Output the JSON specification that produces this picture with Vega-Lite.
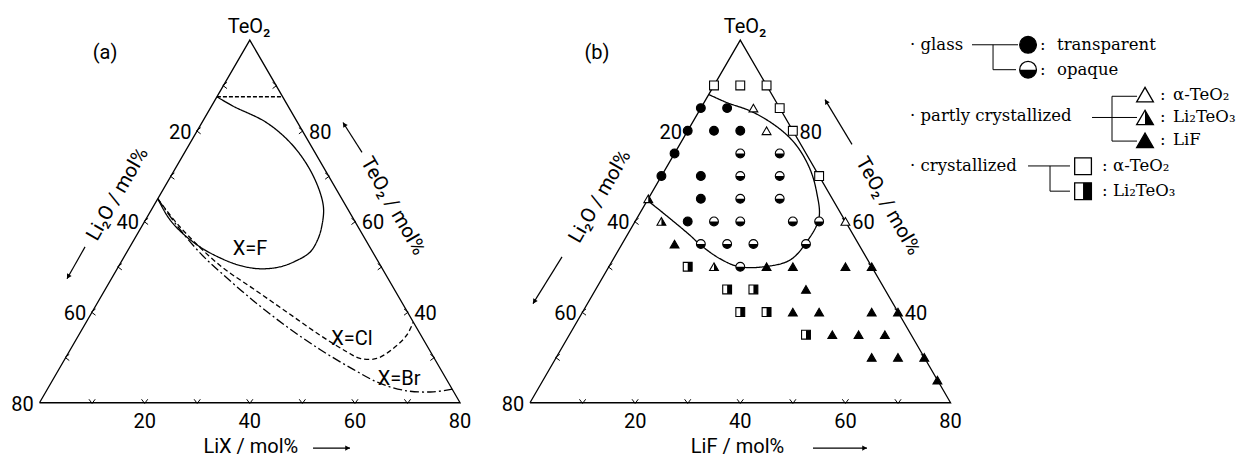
{
  "$schema": "https://vega.github.io/schema/vega-lite/v6.json",
  "width": 1251,
  "height": 457,
  "autosize": {"type": "fit", "contains": "padding"},
  "padding": 0,
  "background": "white",
  "config": {"view": {"stroke": null}},
  "datasets": {
    "tri": [
      {"panel": "a", "i": 0, "lix": 0, "teo2": 20},
      {"panel": "a", "i": 1, "lix": 80, "teo2": 20},
      {"panel": "a", "i": 2, "lix": 0, "teo2": 100},
      {"panel": "a", "i": 3, "lix": 0, "teo2": 20},
      {"panel": "b", "i": 0, "lix": 0, "teo2": 20},
      {"panel": "b", "i": 1, "lix": 80, "teo2": 20},
      {"panel": "b", "i": 2, "lix": 0, "teo2": 100},
      {"panel": "b", "i": 3, "lix": 0, "teo2": 20}
    ],
    "edges": [
      {"panel": "a", "edge": "L", "v": [10, 20, 30, 40, 50, 60, 70]},
      {"panel": "a", "edge": "B", "v": [10, 20, 30, 40, 50, 60, 70]},
      {"panel": "a", "edge": "R", "v": [30, 40, 50, 60, 70, 80, 90]},
      {"panel": "b", "edge": "L", "v": [10, 20, 30, 40, 50, 60, 70]},
      {"panel": "b", "edge": "B", "v": [10, 20, 30, 40, 50, 60, 70]},
      {"panel": "b", "edge": "R", "v": [30, 40, 50, 60, 70, 80, 90]}
    ],
    "labels": [
      {"panel": "a", "edge": "L", "v": [20, 40, 60, 80]},
      {"panel": "a", "edge": "R", "v": [40, 60, 80]},
      {"panel": "a", "edge": "B", "v": [20, 40, 60, 80]},
      {"panel": "b", "edge": "L", "v": [20, 40, 60, 80]},
      {"panel": "b", "edge": "R", "v": [40, 60, 80]},
      {"panel": "b", "edge": "B", "v": [20, 40, 60, 80]}
    ],
    "curves": [
      {"panel": "a", "c": "F", "i": 0, "lix": 0, "teo2": 87.5},
      {"panel": "a", "c": "F", "i": 1, "lix": 4.16, "teo2": 85.41},
      {"panel": "a", "c": "F", "i": 2, "lix": 12.34, "teo2": 81.77},
      {"panel": "a", "c": "F", "i": 3, "lix": 19.97, "teo2": 76.63},
      {"panel": "a", "c": "F", "i": 4, "lix": 27.06, "teo2": 70.03},
      {"panel": "a", "c": "F", "i": 5, "lix": 32.26, "teo2": 63.45},
      {"panel": "a", "c": "F", "i": 6, "lix": 34.14, "teo2": 59.2},
      {"panel": "a", "c": "F", "i": 7, "lix": 34.91, "teo2": 56.13},
      {"panel": "a", "c": "F", "i": 8, "lix": 34.85, "teo2": 53.21},
      {"panel": "a", "c": "F", "i": 9, "lix": 33.14, "teo2": 51.3},
      {"panel": "a", "c": "F", "i": 10, "lix": 30.76, "teo2": 49.98},
      {"panel": "a", "c": "F", "i": 11, "lix": 27.17, "teo2": 49.55},
      {"panel": "a", "c": "F", "i": 12, "lix": 23.01, "teo2": 50.27},
      {"panel": "a", "c": "F", "i": 13, "lix": 18.36, "teo2": 51.96},
      {"panel": "a", "c": "F", "i": 14, "lix": 13.34, "teo2": 54.38},
      {"panel": "a", "c": "F", "i": 15, "lix": 7.79, "teo2": 57.89},
      {"panel": "a", "c": "F", "i": 16, "lix": 3.96, "teo2": 60.97},
      {"panel": "a", "c": "F", "i": 17, "lix": 0, "teo2": 65},
      {"panel": "a", "c": "Cl", "i": 0, "lix": 0, "teo2": 65},
      {"panel": "a", "c": "Cl", "i": 1, "lix": 7.35, "teo2": 58.77},
      {"panel": "a", "c": "Cl", "i": 2, "lix": 19.21, "teo2": 50.27},
      {"panel": "a", "c": "Cl", "i": 3, "lix": 28.1, "teo2": 45.15},
      {"panel": "a", "c": "Cl", "i": 4, "lix": 37.0, "teo2": 40.03},
      {"panel": "a", "c": "Cl", "i": 5, "lix": 45.91, "teo2": 34.9},
      {"panel": "a", "c": "Cl", "i": 6, "lix": 52.82, "teo2": 31.25},
      {"panel": "a", "c": "Cl", "i": 7, "lix": 56.09, "teo2": 29.77},
      {"panel": "a", "c": "Cl", "i": 8, "lix": 59.26, "teo2": 29.77},
      {"panel": "a", "c": "Cl", "i": 9, "lix": 61.31, "teo2": 31.97},
      {"panel": "a", "c": "Cl", "i": 10, "lix": 62.4, "teo2": 34.9},
      {"panel": "a", "c": "Cl", "i": 11, "lix": 62.19, "teo2": 37.81},
      {"panel": "a", "c": "Br", "i": 0, "lix": 0, "teo2": 65},
      {"panel": "a", "c": "Br", "i": 1, "lix": 6.97, "teo2": 58.77},
      {"panel": "a", "c": "Br", "i": 2, "lix": 14.0, "teo2": 53.06},
      {"panel": "a", "c": "Br", "i": 3, "lix": 19.9, "teo2": 48.88},
      {"panel": "a", "c": "Br", "i": 4, "lix": 29.41, "teo2": 42.52},
      {"panel": "a", "c": "Br", "i": 5, "lix": 38.62, "teo2": 36.8},
      {"panel": "a", "c": "Br", "i": 6, "lix": 47.48, "teo2": 31.75},
      {"panel": "a", "c": "Br", "i": 7, "lix": 56.01, "teo2": 27.36},
      {"panel": "a", "c": "Br", "i": 8, "lix": 62.63, "teo2": 24.28},
      {"panel": "a", "c": "Br", "i": 9, "lix": 68.53, "teo2": 22.63},
      {"panel": "a", "c": "Br", "i": 10, "lix": 73.7, "teo2": 22.41},
      {"panel": "a", "c": "Br", "i": 11, "lix": 77.0, "teo2": 23.0},
      {"panel": "a", "c": "top", "i": 0, "lix": 0, "teo2": 87.5},
      {"panel": "a", "c": "top", "i": 1, "lix": 12.5, "teo2": 87.5},
      {"panel": "b", "c": "b", "i": 0, "lix": 0, "teo2": 88},
      {"panel": "b", "c": "b", "i": 1, "lix": 4.28, "teo2": 86.24},
      {"panel": "b", "c": "b", "i": 2, "lix": 10.35, "teo2": 84.11},
      {"panel": "b", "c": "b", "i": 3, "lix": 17.35, "teo2": 80.38},
      {"panel": "b", "c": "b", "i": 4, "lix": 22.35, "teo2": 76.72},
      {"panel": "b", "c": "b", "i": 5, "lix": 27.44, "teo2": 71.6},
      {"panel": "b", "c": "b", "i": 6, "lix": 31.28, "teo2": 66.48},
      {"panel": "b", "c": "b", "i": 7, "lix": 34.64, "teo2": 60.62},
      {"panel": "b", "c": "b", "i": 8, "lix": 34.83, "teo2": 54.91},
      {"panel": "b", "c": "b", "i": 9, "lix": 33.71, "teo2": 51.46},
      {"panel": "b", "c": "b", "i": 10, "lix": 29.68, "teo2": 50.02},
      {"panel": "b", "c": "b", "i": 11, "lix": 24.73, "teo2": 50.02},
      {"panel": "b", "c": "b", "i": 12, "lix": 20.2, "teo2": 51.8},
      {"panel": "b", "c": "b", "i": 13, "lix": 14.87, "teo2": 54.91},
      {"panel": "b", "c": "b", "i": 14, "lix": 11.95, "teo2": 56.95},
      {"panel": "b", "c": "b", "i": 15, "lix": 3.5, "teo2": 62.44},
      {"panel": "b", "c": "b", "i": 16, "lix": 0, "teo2": 64.64}
    ],
    "pts": [
      {"panel": "b", "lix": 0, "teo2": 90, "type": "CA"},
      {"panel": "b", "lix": 5, "teo2": 90, "type": "CA"},
      {"panel": "b", "lix": 10, "teo2": 90, "type": "CA"},
      {"panel": "b", "lix": 0, "teo2": 85, "type": "T"},
      {"panel": "b", "lix": 5, "teo2": 85, "type": "T"},
      {"panel": "b", "lix": 10, "teo2": 85, "type": "PA"},
      {"panel": "b", "lix": 15, "teo2": 85, "type": "CA"},
      {"panel": "b", "lix": 0, "teo2": 80, "type": "T"},
      {"panel": "b", "lix": 5, "teo2": 80, "type": "T"},
      {"panel": "b", "lix": 10, "teo2": 80, "type": "T"},
      {"panel": "b", "lix": 15, "teo2": 80, "type": "PA"},
      {"panel": "b", "lix": 20, "teo2": 80, "type": "CA"},
      {"panel": "b", "lix": 0, "teo2": 75, "type": "T"},
      {"panel": "b", "lix": 12.5, "teo2": 75, "type": "O"},
      {"panel": "b", "lix": 20, "teo2": 75, "type": "O"},
      {"panel": "b", "lix": 0, "teo2": 70, "type": "T"},
      {"panel": "b", "lix": 7.5, "teo2": 70, "type": "T"},
      {"panel": "b", "lix": 15, "teo2": 70, "type": "O"},
      {"panel": "b", "lix": 22.5, "teo2": 70, "type": "O"},
      {"panel": "b", "lix": 30, "teo2": 70, "type": "CA"},
      {"panel": "b", "lix": 0, "teo2": 65, "type": "PL"},
      {"panel": "b", "lix": 10, "teo2": 65, "type": "T"},
      {"panel": "b", "lix": 17.5, "teo2": 65, "type": "O"},
      {"panel": "b", "lix": 25, "teo2": 65, "type": "O"},
      {"panel": "b", "lix": 5, "teo2": 60, "type": "PL"},
      {"panel": "b", "lix": 10, "teo2": 60, "type": "T"},
      {"panel": "b", "lix": 15, "teo2": 60, "type": "O"},
      {"panel": "b", "lix": 20, "teo2": 60, "type": "O"},
      {"panel": "b", "lix": 30, "teo2": 60, "type": "O"},
      {"panel": "b", "lix": 35, "teo2": 60, "type": "O"},
      {"panel": "b", "lix": 40, "teo2": 60, "type": "PA"},
      {"panel": "b", "lix": 10, "teo2": 55, "type": "PF"},
      {"panel": "b", "lix": 15, "teo2": 55, "type": "O"},
      {"panel": "b", "lix": 20, "teo2": 55, "type": "O"},
      {"panel": "b", "lix": 25, "teo2": 55, "type": "O"},
      {"panel": "b", "lix": 35, "teo2": 55, "type": "O"},
      {"panel": "b", "lix": 15, "teo2": 50, "type": "CL"},
      {"panel": "b", "lix": 20, "teo2": 50, "type": "PL"},
      {"panel": "b", "lix": 25, "teo2": 50, "type": "O"},
      {"panel": "b", "lix": 30, "teo2": 50, "type": "PF"},
      {"panel": "b", "lix": 35, "teo2": 50, "type": "PF"},
      {"panel": "b", "lix": 45, "teo2": 50, "type": "PF"},
      {"panel": "b", "lix": 50, "teo2": 50, "type": "PF"},
      {"panel": "b", "lix": 25, "teo2": 45, "type": "CL"},
      {"panel": "b", "lix": 30, "teo2": 45, "type": "CL"},
      {"panel": "b", "lix": 40, "teo2": 45, "type": "PF"},
      {"panel": "b", "lix": 30, "teo2": 40, "type": "CL"},
      {"panel": "b", "lix": 35, "teo2": 40, "type": "CL"},
      {"panel": "b", "lix": 40, "teo2": 40, "type": "PF"},
      {"panel": "b", "lix": 45, "teo2": 40, "type": "PF"},
      {"panel": "b", "lix": 55, "teo2": 40, "type": "PF"},
      {"panel": "b", "lix": 60, "teo2": 40, "type": "PF"},
      {"panel": "b", "lix": 45, "teo2": 35, "type": "CL"},
      {"panel": "b", "lix": 50, "teo2": 35, "type": "PF"},
      {"panel": "b", "lix": 55, "teo2": 35, "type": "PF"},
      {"panel": "b", "lix": 60, "teo2": 35, "type": "PF"},
      {"panel": "b", "lix": 60, "teo2": 30, "type": "PF"},
      {"panel": "b", "lix": 65, "teo2": 30, "type": "PF"},
      {"panel": "b", "lix": 70, "teo2": 30, "type": "PF"},
      {"panel": "b", "lix": 75, "teo2": 25, "type": "PF"}
    ],
    "ann": [
      {"kind": "c", "panel": "a", "cx": 39.85, "cy": 71.81, "text": "TeO₂"},
      {"kind": "c", "panel": "b", "cx": 40.9, "cy": 71.81, "text": "TeO₂"},
      {"kind": "c", "panel": "a", "cx": 12.46, "cy": 66.86, "text": "(a)"},
      {"kind": "c", "panel": "b", "cx": 12.74, "cy": 66.86, "text": "(b)"},
      {"kind": "c", "panel": "a", "cx": 40.04, "cy": 29.39, "text": "X=F"},
      {"kind": "c", "panel": "a", "cx": 59.44, "cy": 12.27, "text": "X=Cl"},
      {"kind": "c", "panel": "a", "cx": 68.39, "cy": 4.47, "text": "X=Br"},
      {"kind": "c", "panel": "a", "cx": 40.2, "cy": -8.4, "text": "LiX  / mol%"},
      {"kind": "c", "panel": "b", "cx": 39.47, "cy": -8.4, "text": "LiF  / mol%"},
      {"kind": "l", "panel": "a", "cx": 14.84, "cy": 39.85, "text": "Li₂O / mol%"},
      {"kind": "l", "panel": "b", "cx": 13.32, "cy": 39.38, "text": "Li₂O / mol%"},
      {"kind": "r", "panel": "a", "cx": 67.24, "cy": 37.57, "text": "TeO₂ / mol%"},
      {"kind": "r", "panel": "b", "cx": 68.1, "cy": 37.57, "text": "TeO₂ / mol%"}
    ],
    "arrows": [
      {"panel": "a", "cx": 8.66, "cy": 29.77, "cx2": 5.23, "cy2": 23.68},
      {"panel": "b", "cx": 6.09, "cy": 27.87, "cx2": 0.57, "cy2": 18.93},
      {"panel": "a", "cx": 61.35, "cy": 47.84, "cx2": 57.73, "cy2": 53.55},
      {"panel": "b", "cx": 61.25, "cy": 49.36, "cx2": 56.12, "cy2": 57.92},
      {"panel": "a", "cx": 52.03, "cy": -8.66, "cx2": 59.06, "cy2": -8.66},
      {"panel": "b", "cx": 53.83, "cy": -8.66, "cx2": 64.1, "cy2": -8.66}
    ],
    "legsym": [
      {"x": 188.04, "y": 68.39, "type": "T"},
      {"x": 188.04, "y": 63.63, "type": "O"},
      {"x": 210.29, "y": 58.87, "type": "PA"},
      {"x": 210.29, "y": 54.5, "type": "PL"},
      {"x": 210.29, "y": 50.12, "type": "PF"},
      {"x": 198.5, "y": 45.18, "type": "CA"},
      {"x": 198.5, "y": 40.42, "type": "CL"}
    ],
    "legrule": [
      {"x": 177.38, "y": 68.39, "x2": 186.13, "y2": 68.39},
      {"x": 181.38, "y": 68.39, "x2": 181.38, "y2": 63.63},
      {"x": 181.38, "y": 63.63, "x2": 185.75, "y2": 63.63},
      {"x": 200.21, "y": 54.5, "x2": 208.77, "y2": 54.5},
      {"x": 204.01, "y": 58.55, "x2": 204.01, "y2": 49.99},
      {"x": 204.01, "y": 58.55, "x2": 208.77, "y2": 58.55},
      {"x": 204.01, "y": 49.99, "x2": 208.77, "y2": 49.99},
      {"x": 188.04, "y": 45.24, "x2": 196.02, "y2": 45.24},
      {"x": 192.22, "y": 45.24, "x2": 192.22, "y2": 40.42},
      {"x": 192.22, "y": 40.42, "x2": 196.02, "y2": 40.42}
    ],
    "legtext": [
      {"x": 165.59, "y": 68.39, "text": "· glass"},
      {"x": 190.32, "y": 68.39, "text": ":"},
      {"x": 193.55, "y": 68.39, "text": "transparent"},
      {"x": 190.32, "y": 63.63, "text": ":"},
      {"x": 193.55, "y": 63.63, "text": "opaque"},
      {"x": 165.59, "y": 54.69, "text": "· partly crystallized"},
      {"x": 213.14, "y": 58.87, "text": ":"},
      {"x": 215.62, "y": 58.87, "text": "α-TeO₂"},
      {"x": 213.14, "y": 54.5, "text": ":"},
      {"x": 215.62, "y": 54.5, "text": "Li₂TeO₃"},
      {"x": 213.14, "y": 50.12, "text": ":"},
      {"x": 215.62, "y": 50.12, "text": "LiF"},
      {"x": 165.59, "y": 45.18, "text": "· crystallized"},
      {"x": 202.11, "y": 45.18, "text": ":"},
      {"x": 204.2, "y": 45.18, "text": "α-TeO₂"},
      {"x": 202.11, "y": 40.42, "text": ":"},
      {"x": 204.2, "y": 40.42, "text": "Li₂TeO₃"}
    ]
  },
  "encoding": {
    "x": {"field": "x", "type": "quantitative", "scale": {"domain": [-7.514, 230.45], "nice": false, "zero": false}, "axis": null},
    "y": {"field": "y", "type": "quantitative", "scale": {"domain": [-9.987, 76.945], "nice": false, "zero": false}, "axis": null}
  },
  "resolve": {"scale": {"shape": "independent", "size": "independent", "strokeDash": "independent"}},
  "layer": [
    {
      "data": {"name": "tri"},
      "transform": [
        {"calculate": "datum.lix + (datum.teo2 - 20) / 2 + (datum.panel == 'b' ? 93.3 : 0)", "as": "x"},
        {"calculate": "(datum.teo2 - 20) * 0.8660254", "as": "y"}
      ],
      "mark": {"type": "line", "color": "black", "strokeWidth": 1.3, "strokeJoin": "miter"},
      "encoding": {"detail": {"field": "panel"}, "order": {"field": "i", "type": "quantitative"}}
    },
    {
      "data": {"name": "edges"},
      "transform": [
        {"flatten": ["v"]},
        {"calculate": "datum.edge == 'B' ? datum.v : (datum.edge == 'R' ? 100 - datum.v : 0)", "as": "lix"},
        {"calculate": "datum.edge == 'B' ? 20 : (datum.edge == 'R' ? datum.v : 100 - datum.v)", "as": "teo2"},
        {"calculate": "datum.lix + (datum.teo2 - 20) / 2 + (datum.panel == 'b' ? 93.3 : 0)", "as": "x"},
        {"calculate": "(datum.teo2 - 20) * 0.8660254", "as": "y"},
        {"calculate": "datum.edge == 'L' ? 0 : (datum.edge == 'B' ? -90 : 180)", "as": "ang"}
      ],
      "mark": {"type": "point", "shape": "M1,-0.9L-0.2,0L1,0.9", "filled": false, "stroke": "black", "strokeWidth": 1, "size": 48, "opacity": 1},
      "encoding": {"angle": {"field": "ang", "type": "quantitative", "scale": null}}
    },
    {
      "data": {"name": "curves"},
      "transform": [
        {"calculate": "datum.lix + (datum.teo2 - 20) / 2 + (datum.panel == 'b' ? 93.3 : 0)", "as": "x"},
        {"calculate": "(datum.teo2 - 20) * 0.8660254", "as": "y"}
      ],
      "mark": {"type": "line", "color": "black", "strokeWidth": 1.3, "interpolate": "catmull-rom"},
      "encoding": {
        "detail": {"field": "c"},
        "order": {"field": "i", "type": "quantitative"},
        "strokeDash": {"field": "c", "type": "nominal", "scale": {"domain": ["F", "Cl", "Br", "top", "b"], "range": [[1, 0], [5, 3], [9, 3, 2, 3], [4, 2], [1, 0]]}, "legend": null}
      }
    },
    {
      "data": {"name": "pts"},
      "transform": [
        {"calculate": "datum.lix + (datum.teo2 - 20) / 2 + (datum.panel == 'b' ? 93.3 : 0)", "as": "x"},
        {"calculate": "(datum.teo2 - 20) * 0.8660254", "as": "y"}
      ],
      "mark": {"type": "point", "filled": true, "fill": "white", "stroke": "black", "strokeWidth": 1.1, "opacity": 1},
      "encoding": {
        "shape": {"field": "type", "type": "nominal", "scale": {"domain": ["T", "O", "PA", "PL", "PF", "CA", "CL"], "range": ["circle", "circle", "triangle-up", "triangle-up", "triangle-up", "square", "square"]}, "legend": null},
        "size": {"field": "type", "type": "nominal", "scale": {"domain": ["T", "O", "PA", "PL", "PF", "CA", "CL"], "range": [78, 78, 95, 95, 95, 68, 68]}, "legend": null}
      }
    },
    {
      "data": {"name": "pts"},
      "transform": [
        {"filter": "indexof(['T','O','PL','PF','CL'], datum.type) >= 0"},
        {"calculate": "datum.lix + (datum.teo2 - 20) / 2 + (datum.panel == 'b' ? 93.3 : 0)", "as": "x"},
        {"calculate": "(datum.teo2 - 20) * 0.8660254", "as": "y"}
      ],
      "mark": {"type": "point", "filled": true, "fill": "black", "strokeWidth": 0, "opacity": 1},
      "encoding": {
        "shape": {"field": "type", "type": "nominal", "scale": {"domain": ["T", "O", "PL", "PF", "CL"], "range": ["circle", "M-1,0A1,1,0,0,0,1,0Z", "M0,-0.866L1,0.866L0,0.866Z", "triangle-up", "M0,-1L1,-1L1,1L0,1Z"]}, "legend": null},
        "size": {"field": "type", "type": "nominal", "scale": {"domain": ["T", "O", "PL", "PF", "CL"], "range": [78, 78, 95, 95, 68]}, "legend": null}
      }
    },
    {
      "data": {"name": "legsym"},
      "mark": {"type": "point", "filled": true, "fill": "white", "stroke": "black", "strokeWidth": 1.3, "opacity": 1},
      "encoding": {
        "shape": {"field": "type", "type": "nominal", "scale": {"domain": ["T", "O", "PA", "PL", "PF", "CA", "CL"], "range": ["circle", "circle", "triangle-up", "triangle-up", "triangle-up", "square", "square"]}, "legend": null},
        "size": {"field": "type", "type": "nominal", "scale": {"domain": ["T", "O", "PA", "PL", "PF", "CA", "CL"], "range": [280, 280, 210, 210, 210, 240, 240]}, "legend": null}
      }
    },
    {
      "data": {"name": "legsym"},
      "transform": [{"filter": "indexof(['T','O','PL','PF','CL'], datum.type) >= 0"}],
      "mark": {"type": "point", "filled": true, "fill": "black", "strokeWidth": 0, "opacity": 1},
      "encoding": {
        "shape": {"field": "type", "type": "nominal", "scale": {"domain": ["T", "O", "PL", "PF", "CL"], "range": ["circle", "M-1,0A1,1,0,0,0,1,0Z", "M0,-0.866L1,0.866L0,0.866Z", "triangle-up", "M0,-1L1,-1L1,1L0,1Z"]}, "legend": null},
        "size": {"field": "type", "type": "nominal", "scale": {"domain": ["T", "O", "PL", "PF", "CL"], "range": [280, 280, 210, 210, 240]}, "legend": null}
      }
    },
    {
      "data": {"name": "legrule"},
      "mark": {"type": "rule", "color": "black", "strokeWidth": 1},
      "encoding": {"x2": {"field": "x2"}, "y2": {"field": "y2"}}
    },
    {
      "data": {"name": "legtext"},
      "mark": {"type": "text", "font": "DejaVu Serif", "fontSize": 16.5, "align": "left", "baseline": "middle", "color": "black"},
      "encoding": {"text": {"field": "text"}}
    },
    {
      "data": {"name": "labels"},
      "transform": [
        {"flatten": ["v"]},
        {"filter": "datum.edge == 'L'"},
        {"calculate": "0", "as": "lix"},
        {"calculate": "100 - datum.v", "as": "teo2"},
        {"calculate": "datum.lix + (datum.teo2 - 20) / 2 + (datum.panel == 'b' ? 93.3 : 0)", "as": "x"},
        {"calculate": "(datum.teo2 - 20) * 0.8660254", "as": "y"}
      ],
      "mark": {"type": "text", "font": "Roboto", "fontSize": 20, "align": "center", "baseline": "middle", "dx": -17, "dy": 2, "color": "black"},
      "encoding": {"text": {"field": "v", "type": "nominal"}}
    },
    {
      "data": {"name": "labels"},
      "transform": [
        {"flatten": ["v"]},
        {"filter": "datum.edge == 'R'"},
        {"calculate": "100 - datum.v", "as": "lix"},
        {"calculate": "datum.v", "as": "teo2"},
        {"calculate": "datum.lix + (datum.teo2 - 20) / 2 + (datum.panel == 'b' ? 93.3 : 0)", "as": "x"},
        {"calculate": "(datum.teo2 - 20) * 0.8660254", "as": "y"}
      ],
      "mark": {"type": "text", "font": "Roboto", "fontSize": 20, "align": "center", "baseline": "middle", "dx": 18, "dy": 2, "color": "black"},
      "encoding": {"text": {"field": "v", "type": "nominal"}}
    },
    {
      "data": {"name": "labels"},
      "transform": [
        {"flatten": ["v"]},
        {"filter": "datum.edge == 'B'"},
        {"calculate": "datum.v", "as": "lix"},
        {"calculate": "20", "as": "teo2"},
        {"calculate": "datum.lix + (datum.teo2 - 20) / 2 + (datum.panel == 'b' ? 93.3 : 0)", "as": "x"},
        {"calculate": "(datum.teo2 - 20) * 0.8660254", "as": "y"}
      ],
      "mark": {"type": "text", "font": "Roboto", "fontSize": 20, "align": "center", "baseline": "middle", "dy": 19, "color": "black"},
      "encoding": {"text": {"field": "v", "type": "nominal"}}
    },
    {
      "data": {"name": "ann"},
      "transform": [
        {"filter": "datum.kind == 'c'"},
        {"calculate": "datum.cx + (datum.panel == 'b' ? 93.3 : 0)", "as": "x"},
        {"calculate": "datum.cy", "as": "y"}
      ],
      "mark": {"type": "text", "font": "Roboto", "fontSize": 20, "align": "center", "baseline": "middle", "color": "black"},
      "encoding": {"text": {"field": "text"}}
    },
    {
      "data": {"name": "ann"},
      "transform": [
        {"filter": "datum.kind == 'l'"},
        {"calculate": "datum.cx + (datum.panel == 'b' ? 93.3 : 0)", "as": "x"},
        {"calculate": "datum.cy", "as": "y"}
      ],
      "mark": {"type": "text", "font": "Roboto", "fontSize": 20, "align": "center", "baseline": "middle", "angle": -60, "color": "black"},
      "encoding": {"text": {"field": "text"}}
    },
    {
      "data": {"name": "ann"},
      "transform": [
        {"filter": "datum.kind == 'r'"},
        {"calculate": "datum.cx + (datum.panel == 'b' ? 93.3 : 0)", "as": "x"},
        {"calculate": "datum.cy", "as": "y"}
      ],
      "mark": {"type": "text", "font": "Roboto", "fontSize": 20, "align": "center", "baseline": "middle", "angle": 60, "color": "black"},
      "encoding": {"text": {"field": "text"}}
    },
    {
      "data": {"name": "arrows"},
      "transform": [
        {"calculate": "datum.cx + (datum.panel == 'b' ? 93.3 : 0)", "as": "x"},
        {"calculate": "datum.cy", "as": "y"},
        {"calculate": "datum.cx2 + (datum.panel == 'b' ? 93.3 : 0)", "as": "x2"},
        {"calculate": "datum.cy2", "as": "y2"}
      ],
      "mark": {"type": "rule", "color": "black", "strokeWidth": 1.2},
      "encoding": {"x2": {"field": "x2"}, "y2": {"field": "y2"}}
    },
    {
      "data": {"name": "arrows"},
      "transform": [
        {"calculate": "datum.cx2 + (datum.panel == 'b' ? 93.3 : 0)", "as": "x"},
        {"calculate": "datum.cy2", "as": "y"},
        {"calculate": "atan2(-(datum.cy2 - datum.cy), datum.cx2 - datum.cx) * 180 / PI", "as": "ang"}
      ],
      "mark": {"type": "point", "shape": "M-1,-0.55L0,0L-1,0.55Z", "filled": true, "fill": "black", "strokeWidth": 0, "size": 90, "opacity": 1},
      "encoding": {"angle": {"field": "ang", "type": "quantitative", "scale": null}}
    }
  ]
}
